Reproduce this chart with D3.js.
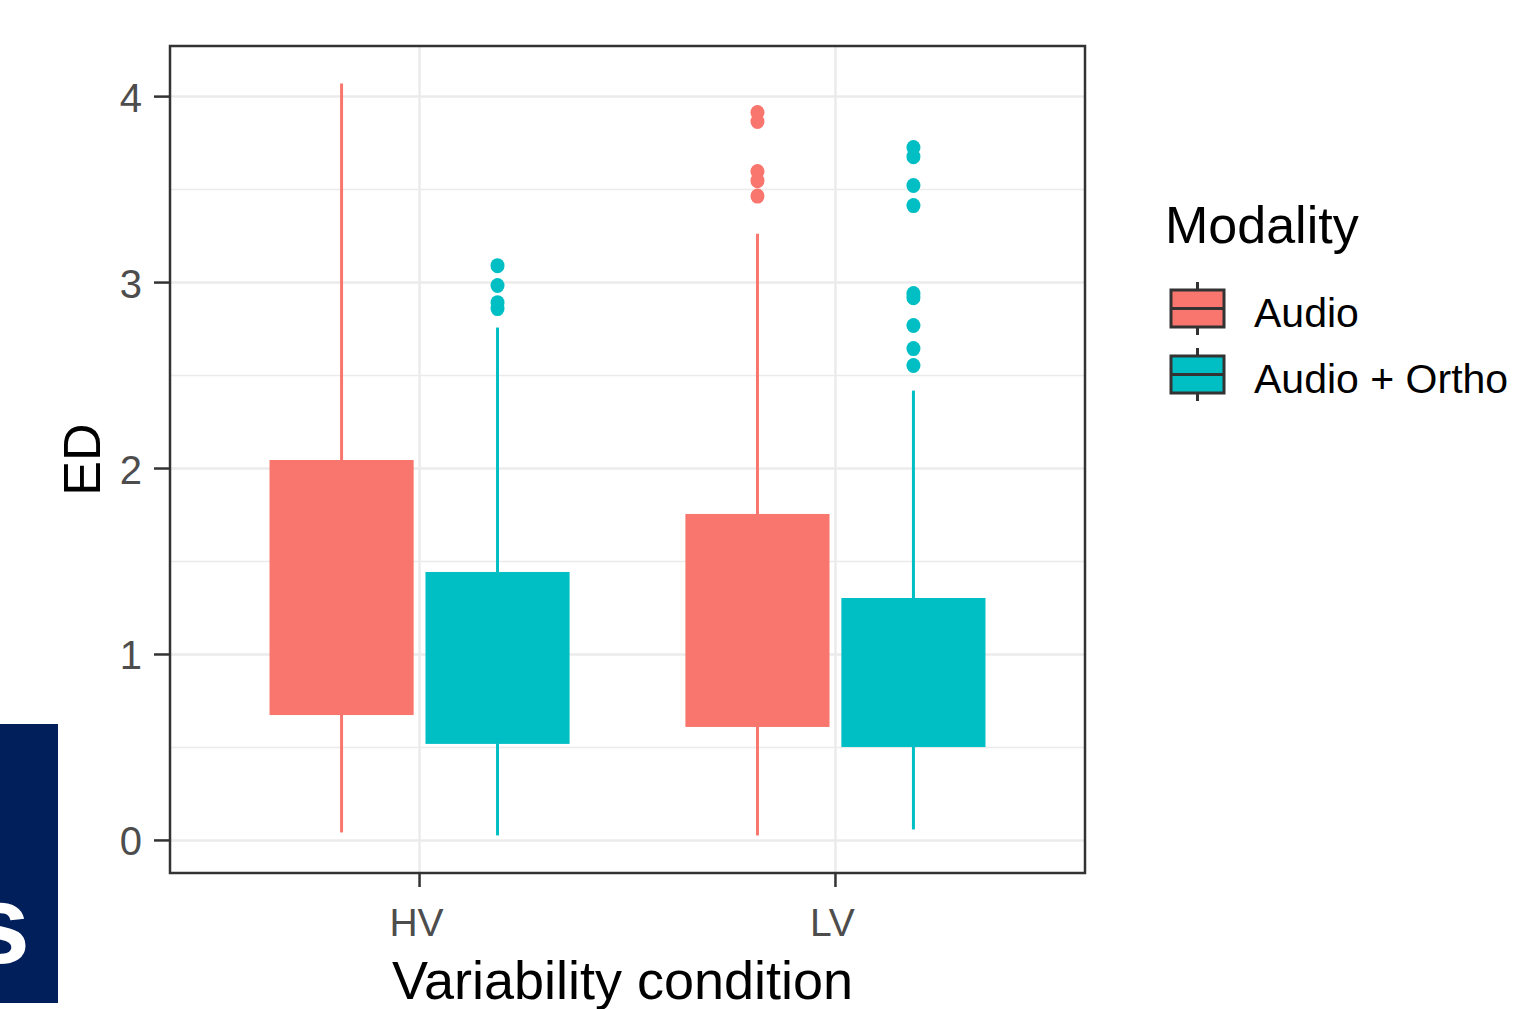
<!DOCTYPE html>
<html>
<head>
<meta charset="utf-8">
<script src="https://cdn.jsdelivr.net/npm/d3@7.9.0/dist/d3.min.js"></script>
<style>
  html, body { margin: 0; padding: 0; background: #fff; }
  svg { display: block; }
  text { font-family: "Liberation Sans", Arial, sans-serif; }
</style>
</head>
<body>
<svg id="chart" width="1515" height="1009"></svg>
<script>
const conditions = ['HV', 'LV'];
const modalities = ['Audio', 'Audio + Ortho'];
const colors = ['#F8766D', '#00BFC4'];

// box stats per condition x modality: [lower whisker, q1, q3, upper whisker]
const hvAudio = [0.043, 0.677, 2.043, 4.07];
const hvOrtho = [0.027, 0.522, 1.441, 2.758];
const lvAudio = [0.027, 0.613, 1.753, 3.263];
const lvOrtho = [0.059, 0.505, 1.301, 2.419];

const hvAudioOut = [];
const hvOrthoOut = [3.091, 2.984, 2.892, 2.86];
const lvAudioOut = [3.914, 3.866, 3.597, 3.548, 3.465];
const lvOrthoOut = [3.726, 3.677, 3.522, 3.414, 2.941, 2.919, 2.769, 2.645, 2.554];

const yTicks = [0, 1, 2, 3, 4];
const yMinor = [0.5, 1.5, 2.5, 3.5];

const boxes = [
  { cond: 'HV', mod: 0, s: hvAudio, out: hvAudioOut },
  { cond: 'HV', mod: 1, s: hvOrtho, out: hvOrthoOut },
  { cond: 'LV', mod: 0, s: lvAudio, out: lvAudioOut },
  { cond: 'LV', mod: 1, s: lvOrtho, out: lvOrthoOut }
];

const svg = d3.select('#chart');
const panel = { left: 170, right: 1085, top: 46, bottom: 873 };

// y domain = data range expanded 5% like ggplot
const allVals = boxes.flatMap((b) => b.s.concat(b.out));
const lo = d3.min(allVals), hi = d3.max(allVals);
const pad = (hi - lo) * 0.05;
const y = d3.scaleLinear().domain([lo - pad, hi + pad]).range([panel.bottom, panel.top]);

// discrete x: positions 1..n with 0.6 expansion
const xIdx = d3.scaleLinear().domain([0.4, conditions.length + 0.6]).range([panel.left, panel.right]);
const xPos = (c) => xIdx(conditions.indexOf(c) + 1);
const dodge = 0.1875, boxW = 0.344;
const unit = xIdx(1) - xIdx(0);

// grid
const grid = svg.append('g');
grid.selectAll('.minor').data(yMinor).enter().append('line')
  .attr('x1', panel.left).attr('x2', panel.right)
  .attr('y1', (d) => y(d)).attr('y2', (d) => y(d))
  .attr('stroke', '#ebebeb').attr('stroke-width', 1.5);
grid.selectAll('.major').data(yTicks).enter().append('line')
  .attr('x1', panel.left).attr('x2', panel.right)
  .attr('y1', (d) => y(d)).attr('y2', (d) => y(d))
  .attr('stroke', '#ebebeb').attr('stroke-width', 2.5);
grid.selectAll('.vmajor').data(conditions).enter().append('line')
  .attr('x1', (d) => xPos(d)).attr('x2', (d) => xPos(d))
  .attr('y1', panel.top).attr('y2', panel.bottom)
  .attr('stroke', '#ebebeb').attr('stroke-width', 2.5);

// boxes
const g = svg.append('g');
boxes.forEach((b) => {
  const cx = xPos(b.cond) + (b.mod === 0 ? -dodge : dodge) * unit;
  const col = colors[b.mod];
  const [wl, q1, q3, wh] = b.s;
  g.append('line').attr('x1', cx).attr('x2', cx).attr('y1', y(wh)).attr('y2', y(q3))
    .attr('stroke', col).attr('stroke-width', 3);
  g.append('line').attr('x1', cx).attr('x2', cx).attr('y1', y(q1)).attr('y2', y(wl))
    .attr('stroke', col).attr('stroke-width', 3);
  g.append('rect')
    .attr('x', cx - boxW * unit / 2).attr('width', boxW * unit)
    .attr('y', y(q3)).attr('height', y(q1) - y(q3))
    .attr('fill', col).attr('stroke', col).attr('stroke-width', 1);
  g.selectAll(null).data(b.out).enter().append('ellipse')
    .attr('cx', cx).attr('cy', (d) => y(d))
    .attr('rx', 7).attr('ry', 7.5)
    .attr('fill', col);
});

// panel border
svg.append('rect')
  .attr('x', panel.left).attr('y', panel.top)
  .attr('width', panel.right - panel.left).attr('height', panel.bottom - panel.top)
  .attr('fill', 'none').attr('stroke', '#333333').attr('stroke-width', 2.5);

// y axis
const ya = svg.append('g');
ya.selectAll('line').data(yTicks).enter().append('line')
  .attr('x1', panel.left - 16).attr('x2', panel.left)
  .attr('y1', (d) => y(d)).attr('y2', (d) => y(d))
  .attr('stroke', '#333333').attr('stroke-width', 2.5);
ya.selectAll('text').data(yTicks).enter().append('text')
  .attr('x', panel.left - 28).attr('y', (d) => y(d) + 15)
  .attr('text-anchor', 'end').attr('font-size', 40).attr('fill', '#4d4d4d')
  .text((d) => d);

// x axis
const xa = svg.append('g');
xa.selectAll('line').data(conditions).enter().append('line')
  .attr('x1', (d) => xPos(d)).attr('x2', (d) => xPos(d))
  .attr('y1', panel.bottom).attr('y2', panel.bottom + 14)
  .attr('stroke', '#333333').attr('stroke-width', 2.5);
xa.selectAll('text').data(conditions).enter().append('text')
  .attr('x', (d) => xPos(d) - 3).attr('y', 936)
  .attr('text-anchor', 'middle').attr('font-size', 39).attr('fill', '#4d4d4d')
  .text((d) => d);

// axis titles
svg.append('text')
  .attr('x', (panel.left + panel.right) / 2 - 5).attr('y', 999)
  .attr('text-anchor', 'middle').attr('font-size', 54).attr('fill', '#000')
  .text('Variability condition');
svg.append('text')
  .attr('transform', `translate(100,${(panel.top + panel.bottom) / 2}) rotate(-90)`)
  .attr('text-anchor', 'middle').attr('font-size', 52).attr('fill', '#000')
  .text('ED');

// legend
const lg = svg.append('g');
lg.append('text').attr('x', 1165).attr('y', 243)
  .attr('font-size', 52).attr('fill', '#000').text('Modality');
modalities.forEach((m, i) => {
  const top = 290 + i * 66;
  const kx = 1171, kw = 53, kh = 37;
  const mid = kx + kw / 2;
  lg.append('line').attr('x1', mid).attr('x2', mid).attr('y1', top - 8).attr('y2', top + kh + 8)
    .attr('stroke', '#333333').attr('stroke-width', 3);
  lg.append('rect').attr('x', kx).attr('y', top).attr('width', kw).attr('height', kh)
    .attr('fill', colors[i]).attr('stroke', '#333333').attr('stroke-width', 3);
  lg.append('line').attr('x1', kx).attr('x2', kx + kw).attr('y1', top + kh / 2).attr('y2', top + kh / 2)
    .attr('stroke', '#333333').attr('stroke-width', 3);
  lg.append('text').attr('x', 1254).attr('y', top + kh)
    .attr('font-size', 41).attr('fill', '#000').text(m);
});

// slide fragment in the corner (cut off in the reference too)
svg.append('rect').attr('x', 0).attr('y', 724).attr('width', 58).attr('height', 279).attr('fill', '#001f5b');
svg.append('text').attr('x', 30).attr('y', 963).attr('text-anchor', 'end')
  .attr('font-size', 112).attr('font-weight', 'bold').attr('fill', '#fff').text('s');
</script>
</body>
</html>
